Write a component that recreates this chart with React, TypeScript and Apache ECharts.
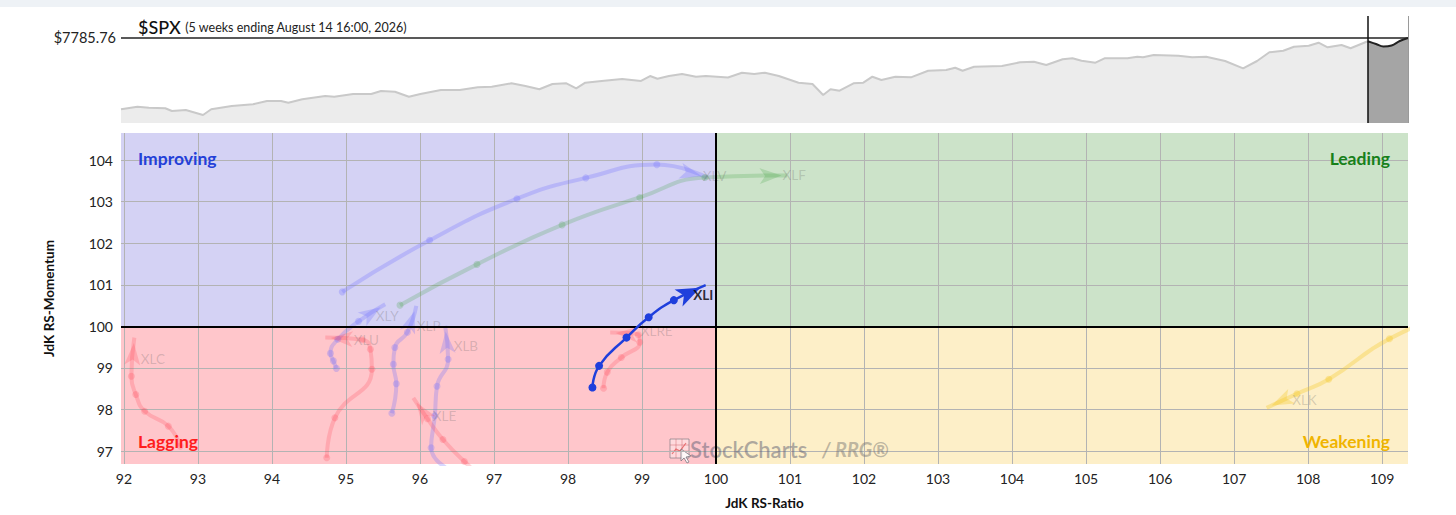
import { useEffect, useRef } from 'react'
import * as echarts from 'echarts'

// $SPX benchmark panel, [week, price]
const SPX_LAST = 7785.76
const SPX_HISTORY: [number, number][] = [
  [0, 4610], [2.0, 4726], [3.4, 4681], [5.4, 4655], [6.2, 4534], [7.9, 4579], [10.0, 4356], [11.0, 4610],
  [13.5, 4757], [16.1, 4833], [17.8, 4980], [19.5, 4980], [20.4, 4904], [22.1, 5056], [24.9, 5203], [26.0, 5171],
  [28.3, 5292], [30.5, 5292], [31.7, 5425], [33.4, 5394], [35.1, 5171], [36.5, 5292], [39.0, 5470], [41.3, 5470],
  [43.5, 5590], [45.2, 5617], [47.6, 5768], [49.3, 5648], [51.0, 5501], [52.6, 5737], [54.3, 5768], [55.5, 5546],
  [56.6, 5795], [58.9, 5884], [61.1, 5960], [63.4, 5871], [64.5, 6093], [65.4, 5973], [66.8, 6093], [68.4, 6182],
  [70.1, 6062], [71.3, 6093], [74.0, 6027], [75.7, 6240], [77.2, 6182], [78.5, 6240], [80.2, 6093], [82.6, 5795],
  [84.3, 5737], [85.6, 5247], [86.5, 5501], [87.6, 5439], [89.3, 5768], [90.5, 5795], [91.6, 6062], [92.7, 5915],
  [94.4, 6062], [96.3, 6035], [98.4, 6329], [100.6, 6361], [101.7, 6463], [102.6, 6329], [104.0, 6508], [107.4, 6539],
  [109.6, 6704], [111.3, 6730], [112.8, 6583], [114.8, 6837], [116.0, 6882], [117.1, 6775], [118.8, 6686], [119.9, 6882],
  [122.7, 6882], [123.9, 6953], [124.6, 6926], [125.9, 7029], [128.9, 6998], [130.6, 6926], [132.3, 6953], [134.6, 6761],
  [136.8, 6436], [138.5, 6761], [140.0, 7149], [141.7, 7220], [143.0, 7398], [144.8, 7443], [146.0, 7577], [147.1, 7372],
  [148.8, 7474], [149.9, 7327], [152.0, 7640],
]
// the last 5 weeks (tail length)
const SPX_RECENT: [number, number][] = [
  [152.0, 7640], [153.0, 7519], [153.9, 7407], [154.9, 7452], [155.9, 7652], [156.9, SPX_LAST],
]

const RATIO_TICKS = [92, 93, 94, 95, 96, 97, 98, 99, 100, 101, 102, 103, 104, 105, 106, 107, 108, 109]
const MOMENTUM_TICKS = [97, 98, 99, 100, 101, 102, 103, 104]

// RRG tails, [JdK RS-Ratio, JdK RS-Momentum], oldest -> latest
const XLC: [number, number][] = [[92.76, 97.12], [92.6, 97.6], [92.28, 97.96], [92.16, 98.36], [92.1, 98.8], [92.14, 99.73]]
const XLY: [number, number][] = [[94.87, 98.99], [94.83, 99.17], [94.79, 99.35], [94.89, 99.69], [95.17, 100.12], [95.53, 100.53]]
const XLU: [number, number][] = [[94.74, 96.84], [94.85, 97.8], [95.35, 98.97], [95.33, 99.45], [95.22, 99.68], [94.72, 99.73]]
const XLP: [number, number][] = [[95.62, 97.91], [95.68, 98.62], [95.64, 99.09], [95.66, 99.49], [95.83, 99.86], [95.95, 100.49]]
const XLB: [number, number][] = [[96.57, 96.4], [96.15, 97.08], [96.2, 97.85], [96.23, 98.56], [96.38, 99.21], [96.34, 100.01]]
const XLE: [number, number][] = [[97.3, 95.9], [96.9, 96.3], [96.6, 96.75], [96.31, 97.28], [96.1, 97.78], [95.91, 98.28]]
const XLV: [number, number][] = [[94.95, 100.83], [96.13, 102.07], [97.31, 103.07], [98.24, 103.57], [99.2, 103.89], [99.88, 103.58]]
const XLF: [number, number][] = [[95.73, 100.51], [96.77, 101.49], [97.92, 102.44], [98.97, 103.1], [99.85, 103.58], [100.96, 103.63]]
const XLRE: [number, number][] = [[98.48, 98.51], [98.53, 98.9], [98.72, 99.25], [98.97, 99.62], [98.95, 99.8], [98.57, 99.85]]
const XLK: [number, number][] = [[110.8, 100.75], [109.95, 100.3], [109.1, 99.7], [108.28, 98.73], [107.85, 98.38], [107.44, 98.04]]
const XLI: [number, number][] = [[98.33, 98.53], [98.42, 99.05], [98.79, 99.73], [99.09, 100.22], [99.43, 100.63], [99.86, 100.99]]

const SECTORS = [
  { name: 'XLC', tail: XLC }, { name: 'XLY', tail: XLY }, { name: 'XLU', tail: XLU }, { name: 'XLP', tail: XLP },
  { name: 'XLB', tail: XLB }, { name: 'XLE', tail: XLE }, { name: 'XLV', tail: XLV }, { name: 'XLF', tail: XLF },
  { name: 'XLRE', tail: XLRE }, { name: 'XLK', tail: XLK }, { name: 'XLI', tail: XLI },
]
const HIGHLIGHT = 'XLI'

// layout
const W = 1456
const H = 515
const RATIO_MIN = 91.96
const RATIO_MAX = 109.35
const MOM_MIN = 96.69
const MOM_MAX = 104.65
const RRG_GRID = { left: 121, right: 48, top: 133, bottom: 51 }
const PRICE_GRID = { left: 121, right: 48, top: 16, bottom: 392 }
const kx = (W - RRG_GRID.left - RRG_GRID.right) / (RATIO_MAX - RATIO_MIN)
const ky = (H - RRG_GRID.top - RRG_GRID.bottom) / (MOM_MAX - MOM_MIN)

const QUAD = {
  improving: { fill: '#d4d2f4', trail: 'rgba(110,110,255,0.28)' },
  leading: { fill: '#cce3c9', trail: 'rgba(60,160,60,0.22)' },
  lagging: { fill: '#ffc6cb', trail: 'rgba(255,50,70,0.2)' },
  weakening: { fill: '#fdefc8', trail: 'rgba(245,195,20,0.3)' },
}
type QuadKey = keyof typeof QUAD

const quadrantOf = ([r, m]: [number, number]): QuadKey =>
  r >= 100 ? (m >= 100 ? 'leading' : 'weakening') : m >= 100 ? 'improving' : 'lagging'

const LABEL_OFFSET: Record<string, [number, number]> = {
  XLI: [-13, 10], XLV: [-5, -1], XLF: [-5, 0], XLY: [-10, 12], XLP: [0, 20], XLU: [28, 2],
  XLB: [8, 20], XLE: [19, 18], XLC: [6, 21], XLRE: [30, -2], XLK: [25, -8],
}

const AXIS_FONT = { color: '#222', fontSize: 14, fontFamily: 'Lato' }
const NAME_FONT = { fontWeight: 'bold', fontSize: 13.5, color: '#111', fontFamily: 'Lato' }

export default function App() {
  const chartRef = useRef<HTMLDivElement>(null)

  useEffect(() => {
    if (!chartRef.current) return
    const chart = echarts.init(chartRef.current, null, { renderer: 'svg' })

    const trailSeries: any[] = []
    SECTORS.forEach((s) => {
      const n = s.tail.length
      const head = s.tail[n - 1]
      const prev = s.tail[n - 2]
      const ang = Math.atan2((head[1] - prev[1]) * ky, (head[0] - prev[0]) * kx)
      const hi = s.name === HIGHLIGHT
      const color = hi ? '#1f3fdc' : QUAD[quadrantOf(head)].trail
      const arrow = hi ? [14, 24] : [12, 22]
      // pull the arrow back so that its tip sits on the latest point
      const off = [(-Math.cos(ang) * arrow[1]) / 4, (Math.sin(ang) * arrow[1]) / 4]
      trailSeries.push({
        type: 'line',
        name: s.name,
        xAxisIndex: 1,
        yAxisIndex: 1,
        smooth: 0.5,
        silent: true,
        z: hi ? 6 : 3,
        symbol: 'circle',
        symbolSize: hi ? 8 : 7,
        showAllSymbol: true,
        lineStyle: { color, width: hi ? 2.5 : 4 },
        itemStyle: { color },
        data: s.tail.map((p, i) =>
          i < n - 1
            ? p
            : {
                value: p,
                symbol: 'arrow',
                symbolSize: arrow,
                symbolRotate: (ang * 180) / Math.PI - 90,
                symbolOffset: off,
              },
        ),
      })
      trailSeries.push({
        type: 'scatter',
        xAxisIndex: 1,
        yAxisIndex: 1,
        silent: true,
        z: hi ? 7 : 4,
        symbolSize: 1,
        itemStyle: { color: 'transparent' },
        data: [
          {
            value: head,
            label: {
              show: true,
              formatter: s.name,
              position: 'right',
              distance: 0,
              offset: LABEL_OFFSET[s.name],
              color: hi ? '#000' : 'rgba(90,90,90,0.3)',
              fontSize: 13.5,
              fontWeight: hi ? 'bold' : 'normal',
              fontFamily: 'Lato',
            },
          },
        ],
      })
    })

    const quadrants: { key: QuadKey; box: number[] }[] = [
      { key: 'improving', box: [RATIO_MIN, 100, 100, MOM_MAX] },
      { key: 'leading', box: [100, 100, RATIO_MAX, MOM_MAX] },
      { key: 'lagging', box: [RATIO_MIN, MOM_MIN, 100, 100] },
      { key: 'weakening', box: [100, MOM_MIN, RATIO_MAX, 100] },
    ]

    const quadLabel = (text: string, x: number, y: number, fill: string, align: string) => ({
      type: 'text',
      silent: true,
      z: 5,
      x,
      y,
      style: { text, font: 'bold 17.5px Lato', fill, align, verticalAlign: 'middle' },
    })

    chart.setOption({
      animation: false,
      textStyle: { fontFamily: 'Lato' },
      title: {
        left: 133,
        top: 13,
        text: '{a|$SPX} {b|(5 weeks ending August 14 16:00, 2026)}',
        textStyle: {
          fontWeight: 'normal',
          rich: {
            a: { fontSize: 18, color: '#111', fontFamily: 'Lato', fontWeight: 500 },
            b: { fontSize: 12.5, color: '#222', fontFamily: 'Lato', fontWeight: 'normal' },
          },
        },
      },
      grid: [PRICE_GRID, RRG_GRID],
      xAxis: [
        { gridIndex: 0, type: 'value', min: 0, max: SPX_RECENT[SPX_RECENT.length - 1][0], show: false },
        {
          gridIndex: 1,
          type: 'value',
          min: RATIO_MIN,
          max: RATIO_MAX,
          axisLine: { show: false },
          axisTick: { show: false, customValues: RATIO_TICKS },
          axisLabel: { ...AXIS_FONT, customValues: RATIO_TICKS, margin: 7 },
          splitLine: { show: true, lineStyle: { color: '#b3b3b3', width: 1 } },
          name: 'JdK RS-Ratio',
          nameLocation: 'middle',
          nameGap: 32,
          nameTextStyle: NAME_FONT,
        },
      ],
      yAxis: [
        { gridIndex: 0, type: 'value', min: 4000, max: 8765.6, show: false },
        {
          gridIndex: 1,
          type: 'value',
          min: MOM_MIN,
          max: MOM_MAX,
          axisLine: { show: false },
          axisTick: { show: false, customValues: MOMENTUM_TICKS },
          axisLabel: { ...AXIS_FONT, customValues: MOMENTUM_TICKS, margin: 8 },
          splitLine: { show: true, lineStyle: { color: '#b3b3b3', width: 1 } },
          name: 'JdK RS-Momentum',
          nameLocation: 'middle',
          nameGap: 65,
          nameTextStyle: NAME_FONT,
        },
      ],
      graphic: [
        { type: 'rect', silent: true, shape: { x: 0, y: 0, width: W, height: 7 }, style: { fill: '#eef2f6' } },
        quadLabel('Improving', 138, 158, '#2340d8', 'left'),
        quadLabel('Leading', 1390, 158, '#17801a', 'right'),
        quadLabel('Lagging', 138, 441, '#ff1c1c', 'left'),
        quadLabel('Weakening', 1390, 441, '#f0b400', 'right'),
        {
          type: 'group',
          silent: true,
          z: 5,
          x: 670,
          y: 439,
          children: [
            { type: 'rect', shape: { x: 0, y: 0, width: 19, height: 19 }, style: { fill: 'rgba(255,255,255,0.35)', stroke: 'rgba(110,110,120,0.6)', lineWidth: 1 } },
            { type: 'line', shape: { x1: 0, y1: 6, x2: 19, y2: 6 }, style: { stroke: 'rgba(200,80,90,0.4)', lineWidth: 1 } },
            { type: 'line', shape: { x1: 0, y1: 12, x2: 19, y2: 12 }, style: { stroke: 'rgba(200,80,90,0.4)', lineWidth: 1 } },
            { type: 'line', shape: { x1: 6, y1: 0, x2: 6, y2: 19 }, style: { stroke: 'rgba(200,80,90,0.4)', lineWidth: 1 } },
            { type: 'line', shape: { x1: 12, y1: 0, x2: 12, y2: 19 }, style: { stroke: 'rgba(200,80,90,0.4)', lineWidth: 1 } },
            { type: 'polyline', shape: { points: [[2, 15], [6, 10], [10, 12], [16, 4]] }, style: { stroke: 'rgba(220,50,50,0.6)', lineWidth: 1.2, fill: 'none' } },
            { type: 'polygon', shape: { points: [[11, 10], [21, 17], [16, 18], [19, 23], [17, 24], [14, 19], [11, 22]] }, style: { fill: 'rgba(255,255,255,0.8)', stroke: 'rgba(110,110,120,0.7)', lineWidth: 1 } },
          ],
        },
        { type: 'text', silent: true, z: 5, x: 690, y: 449, style: { text: 'StockCharts', font: '600 22px Lato', fill: 'rgba(95,95,115,0.5)', align: 'left', verticalAlign: 'middle' } },
        { type: 'text', silent: true, z: 5, x: 822, y: 449, style: { text: '/ RRG®', font: 'italic bold 20px Lato', fill: 'rgba(110,110,110,0.45)', align: 'left', verticalAlign: 'middle' } },
      ],
      series: [
        {
          type: 'line',
          xAxisIndex: 0,
          yAxisIndex: 0,
          silent: true,
          symbol: 'none',
          data: SPX_HISTORY,
          lineStyle: { color: '#c9c9c9', width: 2 },
          areaStyle: { color: '#ececec', origin: 'start', opacity: 1 },
          z: 2,
          markLine: {
            silent: true,
            symbol: ['none', 'none'],
            data: [
              {
                yAxis: SPX_LAST,
                lineStyle: { color: '#222', width: 1.5, type: 'solid' },
                label: { show: true, position: 'start', distance: 5, formatter: '$' + SPX_LAST.toFixed(2), color: '#222', fontSize: 14.5, fontFamily: 'Lato' },
              },
              { xAxis: SPX_RECENT[0][0], lineStyle: { color: '#111', width: 1.5, type: 'solid' }, label: { show: false } },
              { xAxis: SPX_RECENT[SPX_RECENT.length - 1][0], lineStyle: { color: '#9a9a9a', width: 1, type: 'solid' }, label: { show: false } },
            ],
          },
        },
        {
          type: 'line',
          xAxisIndex: 0,
          yAxisIndex: 0,
          silent: true,
          symbol: 'none',
          data: SPX_RECENT,
          smooth: 0.4,
          lineStyle: { color: '#222', width: 2 },
          areaStyle: { color: '#a5a5a5', origin: 'start', opacity: 1 },
          z: 3,
        },
        {
          type: 'custom',
          xAxisIndex: 1,
          yAxisIndex: 1,
          silent: true,
          z: -1,
          data: quadrants.map((q) => q.box),
          renderItem: (params: any, api: any) => {
            const a = api.coord([api.value(0), api.value(3)])
            const b = api.coord([api.value(2), api.value(1)])
            return {
              type: 'rect',
              shape: { x: a[0], y: a[1], width: b[0] - a[0], height: b[1] - a[1] },
              style: { fill: QUAD[quadrants[params.dataIndex].key].fill },
            }
          },
        },
        {
          type: 'line',
          xAxisIndex: 1,
          yAxisIndex: 1,
          silent: true,
          data: [],
          markLine: {
            silent: true,
            symbol: ['none', 'none'],
            lineStyle: { color: '#000', width: 2, type: 'solid' },
            label: { show: false },
            data: [{ xAxis: 100 }, { yAxis: 100 }],
          },
        },
        ...trailSeries,
      ],
    })

    const onResize = () => chart.resize()
    window.addEventListener('resize', onResize)
    return () => {
      window.removeEventListener('resize', onResize)
      chart.dispose()
    }
  }, [])

  return (
    <div
      ref={chartRef}
      style={{ position: 'absolute', left: 0, top: 0, width: `${W}px`, height: `${H}px`, background: '#fff' }}
    />
  )
}
